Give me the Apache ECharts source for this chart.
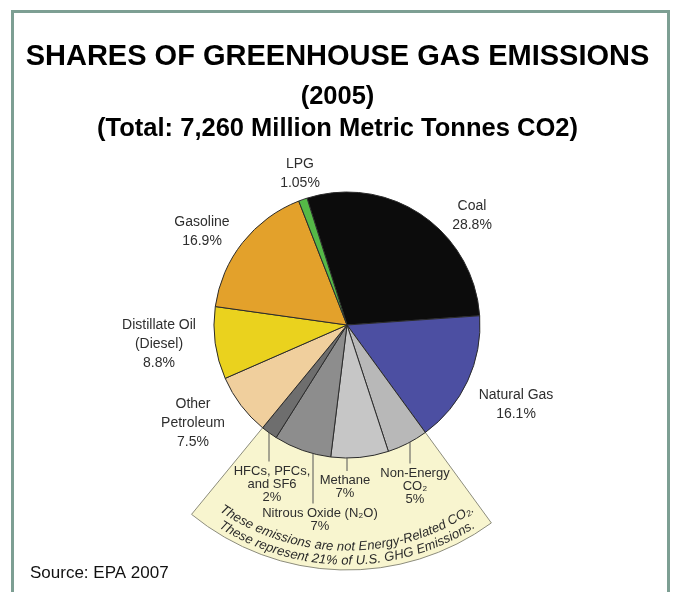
<!DOCTYPE html>
<html>
<head>
<meta charset="utf-8">
<script src="https://cdn.jsdelivr.net/npm/echarts@6/dist/echarts.min.js"></script>
<style>
  html, body { margin: 0; padding: 0; background: #fff; }
  #chart { width: 675px; height: 592px; }
</style>
</head>
<body>
<div id="chart"></div>
<script>
// data
const categories = ['Coal', 'Natural Gas', 'Non-Energy CO₂', 'Methane', 'Nitrous Oxide (N₂O)',
  'HFCs, PFCs, and SF6', 'Other Petroleum', 'Distillate Oil (Diesel)', 'Gasoline', 'LPG'];
const shares = [28.8, 16.1, 5, 7, 7, 2, 7.5, 8.8, 16.9, 1.05];
const shareLabels = ['28.8%', '16.1%', '5%', '7%', '7%', '2%', '7.5%', '8.8%', '16.9%', '1.05%'];
const labelNames = ['Coal', 'Natural Gas', 'Non-Energy\nCO₂', 'Methane', 'Nitrous Oxide (N₂O)',
  'HFCs, PFCs,\nand SF6', 'Other\nPetroleum', 'Distillate Oil\n(Diesel)', 'Gasoline', 'LPG'];
// slices that are not energy-related CO2 (the highlighted fan)
const nonEnergy = [false, false, true, true, true, true, false, false, false, false];

const colors = ['#0c0c0c', '#4c4fa2', '#b8b8b8', '#c6c6c6', '#8d8d8d', '#6e6e6e',
  '#f0cf9d', '#ead21e', '#e3a12b', '#55b947'];

// where each label sits (text block centre, px) and x of the leader line
const labelAt = {
  'Coal': [472, 216],
  'Natural Gas': [516, 405],
  'Non-Energy CO₂': [415, 486],
  'Methane': [345, 487],
  'Nitrous Oxide (N₂O)': [320, 519.5],
  'HFCs, PFCs, and SF6': [272, 484],
  'Other Petroleum': [193, 423.5],
  'Distillate Oil (Diesel)': [159, 344],
  'Gasoline': [202, 231.5],
  'LPG': [300, 174]
};
const leaderX = { 'Non-Energy CO₂': 410, 'Methane': 347, 'Nitrous Oxide (N₂O)': 313, 'HFCs, PFCs, and SF6': 269 };

const FONT = '"Liberation Sans", Arial, Helvetica, sans-serif';
const cx = 347, cy = 325, R = 133;
const startAngle = 107.5;

const chart = echarts.init(document.getElementById('chart'));

// fan behind the non-energy slices: group contiguous slices
const fanData = [];
nonEnergy.forEach((flag, i) => {
  const last = fanData[fanData.length - 1];
  if (last && last.flag === flag) last.value += shares[i];
  else fanData.push({ flag: flag, value: shares[i] });
});

const pieData = categories.map((name, i) => {
  const small = nonEnergy[i];
  return {
    name: name,
    value: shares[i],
    itemStyle: { color: colors[i] },
    label: {
      formatter: labelNames[i] + '\n' + shareLabels[i],
      fontSize: small ? 13 : 14,
      lineHeight: small ? 13 : 19
    }
  };
});

// short vertical leader lines from the pie edge down to the small labels
const leaders = categories.filter(n => leaderX[n] !== undefined).map(name => {
  const i = categories.indexOf(name);
  const lx = leaderX[name];
  const lines = (labelNames[i] + '\n' + shareLabels[i]).split('\n').length;
  const edgeY = cy + Math.sqrt(R * R - (lx - cx) * (lx - cx));
  const endY = labelAt[name][1] - lines * 13 / 2 - 3;
  return {
    type: 'line', silent: true, z: 100,
    shape: { x1: lx, y1: edgeY, x2: lx, y2: endY },
    style: { stroke: '#555', lineWidth: 1 }
  };
});

// text bent along the bottom arc of the fan
function arcText(str, r, size) {
  const ctx = document.createElement('canvas').getContext('2d');
  ctx.font = 'italic ' + size + 'px ' + FONT;
  const chars = Array.from(str);
  const widths = chars.map(ch => ctx.measureText(ch).width);
  const total = widths.reduce((a, b) => a + b, 0);
  let s = -total / 2;
  return chars.map((ch, i) => {
    const mid = s + widths[i] / 2;
    s += widths[i];
    const th = -Math.PI / 2 + mid / r;
    return {
      type: 'text',
      x: cx + r * Math.cos(th),
      y: cy - r * Math.sin(th),
      rotation: th + Math.PI / 2,
      silent: true,
      z: 100,
      style: {
        text: ch, fill: '#2a2a2a', fontSize: size, fontStyle: 'italic', fontFamily: FONT,
        align: 'center', verticalAlign: 'middle', textAlign: 'center', textVerticalAlign: 'middle'
      }
    };
  });
}

const option = {
  animation: false,
  title: {
    text: 'SHARES OF GREENHOUSE GAS EMISSIONS',
    subtext: '(2005)\n(Total: 7,260 Million Metric Tonnes CO2)',
    left: 'center',
    top: 37,
    itemGap: 9,
    textStyle: { fontSize: 29, fontWeight: 'bold', color: '#000', fontFamily: FONT, lineHeight: 30 },
    subtextStyle: { fontSize: 25.5, fontWeight: 'bold', color: '#000', fontFamily: FONT, lineHeight: 32 }
  },
  graphic: {
    elements: [
      {
        type: 'rect', silent: true,
        shape: { x: 12.5, y: 11.5, width: 656, height: 620 },
        style: { fill: 'none', stroke: '#7d9f93', lineWidth: 3 }
      },
      {
        type: 'text', left: 30, top: 565, silent: true,
        style: { text: 'Source: EPA 2007', fill: '#111', fontSize: 17, fontFamily: FONT }
      }
    ].concat(leaders)
     .concat(arcText('These emissions are not Energy-Related CO₂.', 222, 13))
     .concat(arcText('These represent 21% of U.S. GHG Emissions.', 236, 13))
  },
  series: [
    {
      type: 'pie',
      silent: true,
      center: [cx, cy],
      radius: [120, 245],
      startAngle: startAngle,
      clockwise: true,
      label: { show: false },
      labelLine: { show: false },
      data: fanData.map(d => ({
        value: d.value,
        itemStyle: d.flag
          ? { color: '#f8f5cf', borderColor: '#8c8c7c', borderWidth: 1 }
          : { color: 'rgba(0,0,0,0)', borderWidth: 0 }
      }))
    },
    {
      type: 'pie',
      silent: true,
      center: [cx, cy],
      radius: R,
      startAngle: startAngle,
      clockwise: true,
      avoidLabelOverlap: false,
      itemStyle: { borderColor: '#2b2b2b', borderWidth: 1 },
      label: { show: true, position: 'outside', color: '#2e2e2e', fontFamily: FONT },
      labelLine: { show: false },
      labelLayout: function (params) {
        const pos = labelAt[categories[params.dataIndex]];
        return { x: pos[0], y: pos[1], align: 'center', verticalAlign: 'middle' };
      },
      data: pieData
    }
  ]
};

chart.setOption(option);
</script>
</body>
</html>
